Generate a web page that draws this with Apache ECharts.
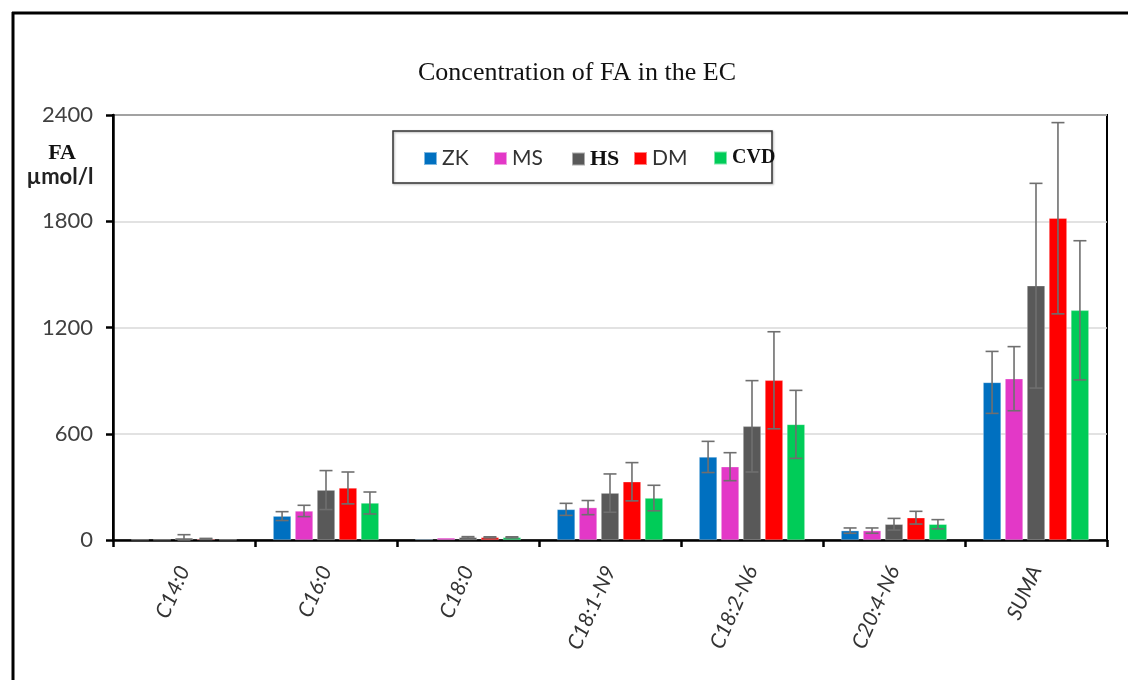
<!DOCTYPE html>
<html>
<head>
<meta charset="utf-8">
<script src="https://cdn.jsdelivr.net/npm/echarts@6/dist/echarts.min.js"></script>
<style>
html,body{margin:0;padding:0;background:#fff;}
#chart{width:1128px;height:680px;}
</style>
</head>
<body>
<div id="chart"></div>
<script>
var categories = ['C14:0', 'C16:0', 'C18:0', 'C18:1-N9', 'C18:2-N6', 'C20:4-N6', 'SUMA'];
var seriesNames = ['ZK', 'MS', 'HS', 'DM', 'CVD'];
var yTicks = [0, 600, 1200, 1800, 2400];

var ZK  = [2, 135, 5, 173, 469, 53, 890];
var MS  = [2, 164, 12, 183, 414, 53, 911];
var HS  = [12, 282, 15, 265, 642, 89, 1436];
var DM  = [6, 294, 15, 329, 902, 126, 1817];
var CVD = [2, 209, 15, 237, 653, 89, 1297];

var ZK_err  = [0, 25, 0, 34, 88, 15, 175];
var MS_err  = [0, 32, 0, 40, 79, 15, 181];
var HS_err  = [18, 110, 4, 108, 258, 33, 578];
var DM_err  = [3, 90, 3, 108, 274, 36, 540];
var CVD_err = [0, 62, 3, 72, 192, 26, 393];

var colors = ['#0070c0', '#e338c7', '#595959', '#ff0000', '#00cc58'];
var values = [ZK, MS, HS, DM, CVD];
var errors = [ZK_err, MS_err, HS_err, DM_err, CVD_err];

var BAR_W = 18, BAR_GAP = 0.22;

function makeErrSeries(si) {
  var data = categories.map(function (c, i) {
    return [i, values[si][i] - errors[si][i], values[si][i] + errors[si][i], errors[si][i]];
  });
  return {
    type: 'custom',
    name: seriesNames[si] + '_err',
    z: 5,
    silent: true,
    encode: { x: 0, y: [1, 2] },
    data: data,
    renderItem: function (params, api) {
      if (api.value(3) <= 0) return null;
      var x = api.value(0);
      var hi = api.coord([x, api.value(2)]);
      var lo = api.coord([x, Math.max(0, api.value(1))]);
      var step = BAR_W * (1 + BAR_GAP);
      var off = (si - 2) * step;
      var cx = hi[0] + off;
      var hw = 6.5;
      var st = { stroke: '#6f6f6f', lineWidth: 1.6 };
      return {
        type: 'group',
        children: [
          { type: 'line', shape: { x1: cx, y1: hi[1], x2: cx, y2: lo[1] }, style: st },
          { type: 'line', shape: { x1: cx - hw, y1: hi[1], x2: cx + hw, y2: hi[1] }, style: st },
          { type: 'line', shape: { x1: cx - hw, y1: lo[1], x2: cx + hw, y2: lo[1] }, style: st }
        ]
      };
    }
  };
}

var series = [];
seriesNames.forEach(function (n, si) {
  series.push({
    type: 'bar',
    name: n,
    data: values[si],
    barWidth: BAR_W,
    barGap: (BAR_GAP * 100) + '%',
    itemStyle: { color: colors[si], borderColor: 'rgba(255,255,255,0.5)', borderWidth: 0.6 },
    z: 2
  });
});
seriesNames.forEach(function (n, si) { series.push(makeErrSeries(si)); });

var sansBig = { fontFamily: 'Lato, "Open Sans", sans-serif', fontSize: 21, color: '#333' };
var serifBold = function (sz) { return { fontFamily: '"Liberation Serif", "DejaVu Serif", serif', fontWeight: 'bold', fontSize: sz, color: '#111' }; };
var legendPos = [
  { left: 418, text: sansBig },
  { left: 488, text: sansBig },
  { left: 566, text: serifBold(22) },
  { left: 628, text: sansBig },
  { left: 708, text: serifBold(20) }
];
var legends = seriesNames.map(function (n, si) {
  return {
    data: [n],
    left: legendPos[si].left,
    top: 143,
    icon: 'rect',
    itemWidth: 13,
    itemHeight: 13,
    textStyle: legendPos[si].text,
    selectedMode: false
  };
});

var chart = echarts.init(document.getElementById('chart'), null, { renderer: 'canvas' });
chart.setOption({
  animation: false,
  backgroundColor: '#fff',
  color: colors,
  legend: legends,
  grid: { left: 113, right: 21, top: 115, bottom: 140, show: true, borderColor: '#000', borderWidth: 2, backgroundColor: 'transparent', containLabel: false },
  xAxis: {
    type: 'category',
    data: categories,
    axisLine: { lineStyle: { color: '#000', width: 2.5 } },
    axisTick: { show: true, length: 7, lineStyle: { color: '#000', width: 2.5 }, alignWithLabel: false },
    axisLabel: { rotate: 66, margin: 27, fontFamily: 'Lato, "Open Sans", sans-serif', fontStyle: 'italic', fontSize: 21, color: '#333' },
    splitLine: { show: false }
  },
  yAxis: {
    type: 'value',
    min: yTicks[0],
    max: yTicks[yTicks.length - 1],
    interval: 600,
    axisLine: { show: true, lineStyle: { color: '#000', width: 2.5 } },
    axisTick: { show: true, length: 7, lineStyle: { color: '#000', width: 2.5 } },
    axisLabel: { margin: 20, fontFamily: 'Lato, "Open Sans", sans-serif', fontSize: 22, color: '#404040', formatter: function (v) { return String(v); } },
    splitLine: { show: true, lineStyle: { color: '#d9d9d9', width: 1.5 } }
  },
  graphic: [
    { type: 'line', shape: { x1: 12, y1: 13, x2: 1128, y2: 13 }, style: { stroke: '#000', lineWidth: 3 }, z: 10 },
    { type: 'line', shape: { x1: 13, y1: 12, x2: 13, y2: 680 }, style: { stroke: '#000', lineWidth: 3 }, z: 10 },
    { type: 'text', x: 577, y: 73, style: { text: 'Concentration of FA in the EC', font: '26px "Liberation Serif", "DejaVu Serif", serif', fill: '#111', align: 'center', verticalAlign: 'middle' } },
    { type: 'text', x: 62, y: 153, style: { text: 'FA', font: 'bold 22px "Liberation Serif", serif', fill: '#111', align: 'center', verticalAlign: 'middle' } },
    { type: 'text', x: 60, y: 177, style: { text: 'µmol/l', font: 'bold 22px Lato, "Open Sans", sans-serif', fill: '#222', align: 'center', verticalAlign: 'middle' } },
    { type: 'rect', shape: { x: 393, y: 131, width: 379, height: 52 }, style: { fill: 'transparent', stroke: '#333', lineWidth: 1.5, shadowBlur: 2, shadowColor: 'rgba(0,0,0,0.3)', shadowOffsetX: 1, shadowOffsetY: 1 }, z: 1 }
  ],
  series: series
});
</script>
</body>
</html>
